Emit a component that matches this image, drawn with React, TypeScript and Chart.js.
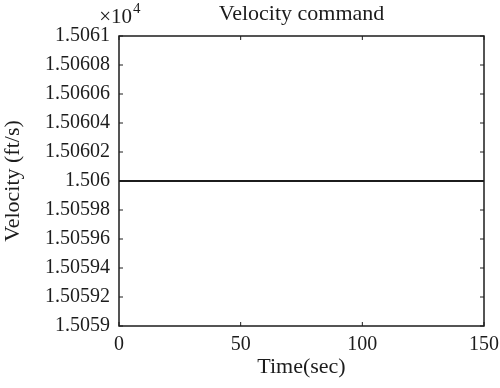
import React, { useEffect, useRef } from "react";
import { Chart, registerables } from "chart.js";

Chart.register(...registerables);

const timeSec: number[] = [0, 50, 100, 150];
const velocityCmd: number[] = [15060, 15060, 15060, 15060];
const xTickValues: number[] = [0, 50, 100, 150];
const yTickValues: number[] = [15059, 15059.2, 15059.4, 15059.6, 15059.8, 15060, 15060.2, 15060.4, 15060.6, 15060.8, 15061];
const yTickLabels: string[] = ["1.5059", "1.50592", "1.50594", "1.50596", "1.50598", "1.506", "1.50602", "1.50604", "1.50606", "1.50608", "1.5061"];
const titleText = "Velocity command";
const xTitle = "Time(sec)";
const yTitle = "Velocity (ft/s)";
const exponentBase = "×10";
const exponentPower = "4";

const FONT = "'Liberation Serif', 'DejaVu Serif', serif";
const INK = "#1c1c1c";

const framePlugin = {
  id: "matlabFrame",
  afterDraw(chart: any) {
    const { ctx, chartArea } = chart;
    const { left, right, top, bottom } = chartArea;
    ctx.save();
    ctx.strokeStyle = INK;
    ctx.lineWidth = 1.5;
    ctx.strokeRect(left, top, right - left, bottom - top);
    const tl = 4;
    const xs = chart.scales.x;
    const ys = chart.scales.y;
    ctx.beginPath();
    xs.ticks.forEach((t: any) => {
      const px = xs.getPixelForValue(t.value);
      ctx.moveTo(px, bottom);
      ctx.lineTo(px, bottom - tl);
      ctx.moveTo(px, top);
      ctx.lineTo(px, top + tl);
    });
    ys.ticks.forEach((t: any) => {
      const py = ys.getPixelForValue(t.value);
      ctx.moveTo(left, py);
      ctx.lineTo(left + tl, py);
      ctx.moveTo(right, py);
      ctx.lineTo(right - tl, py);
    });
    ctx.lineWidth = 1;
    ctx.stroke();
    ctx.fillStyle = INK;
    ctx.textBaseline = "alphabetic";
    ctx.textAlign = "right";
    ctx.font = `21px ${FONT}`;
    ctx.fillText(exponentBase, left + 13, 23);
    ctx.textAlign = "left";
    ctx.font = `15px ${FONT}`;
    ctx.fillText(exponentPower, left + 14, 13);
    ctx.restore();
  },
};

export default function App() {
  const canvasRef = useRef<HTMLCanvasElement | null>(null);

  useEffect(() => {
    document.body.style.margin = "0";
    const canvas = canvasRef.current;
    if (!canvas) return;
    const chart = new Chart(canvas, {
      type: "line",
      data: {
        datasets: [
          {
            data: timeSec.map((t, i) => ({ x: t, y: velocityCmd[i] })),
            borderColor: INK,
            borderWidth: 1.8,
            pointRadius: 0,
            tension: 0,
            fill: false,
          },
        ],
      },
      options: {
        animation: false,
        responsive: false,
        devicePixelRatio: 1,
        layout: { padding: { left: 0, right: 16, top: 0, bottom: 0 } },
        plugins: {
          legend: { display: false },
          tooltip: { enabled: false },
          title: {
            display: true,
            text: titleText,
            fullSize: false,
            color: INK,
            font: { family: FONT, size: 22, weight: "normal" },
            padding: { top: 1, bottom: 8.6 },
          },
        },
        scales: {
          x: {
            type: "linear",
            min: 0,
            max: 150,
            afterBuildTicks: (scale: any) => {
              scale.ticks = xTickValues.map((v) => ({ value: v }));
            },
            afterFit: (scale: any) => {
              scale.height = 62;
              scale.paddingRight = 0;
              scale.paddingLeft = 0;
            },
            grid: { display: false, drawTicks: false },
            border: { display: false },
            ticks: {
              color: INK,
              padding: 7,
              maxRotation: 0,
              font: { family: FONT, size: 20 },
              callback: (v: any) => String(v),
            },
            title: {
              display: true,
              text: xTitle,
              color: INK,
              font: { family: FONT, size: 22 },
              padding: { top: 0, bottom: 8 },
            },
          },
          y: {
            type: "linear",
            min: 15059,
            max: 15061,
            afterBuildTicks: (scale: any) => {
              scale.ticks = yTickValues.map((v) => ({ value: v }));
            },
            afterFit: (scale: any) => {
              scale.width = 119;
              scale.paddingTop = 0;
              scale.paddingBottom = 0;
            },
            grid: { display: false, drawTicks: false },
            border: { display: false },
            ticks: {
              color: INK,
              padding: 9,
              font: { family: FONT, size: 20 },
              callback: (_v: any, i: number) => yTickLabels[i],
            },
            title: {
              display: true,
              text: yTitle,
              color: INK,
              font: { family: FONT, size: 22 },
              padding: { top: 0, bottom: 0 },
            },
          },
        },
      },
      plugins: [framePlugin],
    } as any);
    return () => chart.destroy();
  }, []);

  return (
    <div style={{ position: "absolute", left: 0, top: 0, width: 500, height: 388, background: "#fff" }}>
      <canvas ref={canvasRef} width={500} height={388} style={{ width: 500, height: 388 }} />
    </div>
  );
}
